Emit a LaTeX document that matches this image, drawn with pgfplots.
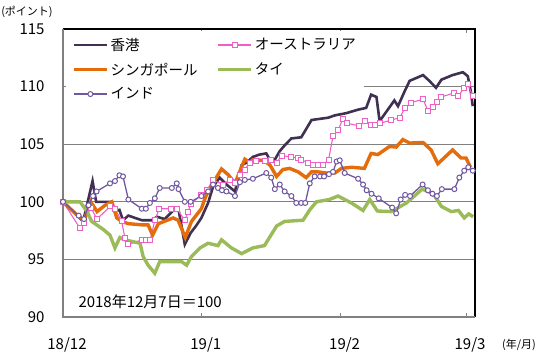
\documentclass[border=0pt]{standalone}
\usepackage{pgfplots}
\pgfplotsset{compat=1.18}
\usepackage{fontspec}
\setmainfont{Noto Sans CJK JP}
\definecolor{hk}{RGB}{64,49,82}
\definecolor{au}{RGB}{238,96,200}
\definecolor{sg}{RGB}{228,108,10}
\definecolor{th}{RGB}{155,187,89}
\definecolor{ind}{RGB}{112,88,160}
\definecolor{gridc}{RGB}{128,128,128}
\begin{document}
\begin{tikzpicture}
\useasboundingbox (-63bp,-41bp) rectangle (487bp,317bp);
\begin{axis}[
  at={(0,0)}, anchor=south west,
  width=412bp, height=288bp, scale only axis,
  xmin=0, xmax=92, ymin=90, ymax=115,
  xtick={0,31,62,90}, xticklabels={18/12,19/1,19/2,19/3},
  ytick={90,95,100,105,110,115},
  /pgf/number format/assume math mode=true,
  font=\fontsize{15bp}{18bp}\selectfont,
  ticklabel style={font=\fontsize{15bp}{18bp}\selectfont},
  yticklabel style={xshift=-15bp},
  xticklabel style={yshift=-17bp, xshift=4bp},
  tick align=inside, major tick length=4bp,
  tick style={draw=gridc, line width=1bp},
  axis line style={draw=none},
  ymajorgrids, grid style={draw=gridc, line width=1.3bp},
  clip=false,
  legend columns=2,
  legend cell align=left,
  legend style={
    at={(rel axis cs:0,1)}, anchor=north west, xshift=3bp, yshift=-2bp,
    draw=none, fill=white,
    inner xsep=6bp, inner ysep=5bp,
    font=\fontsize{14.5bp}{17bp}\selectfont,
    row sep=7bp,
    /tikz/every even column/.append style={column sep=17bp},
  },
  legend image code/.code={\draw[mark repeat=2,mark phase=2,#1] plot coordinates {(0bp,0bp) (16.5bp,0bp) (33bp,0bp)};},
]
% Hong Kong
\addplot[hk, line width=2.6bp, mark=none] coordinates {
(0,100)(4.5,98.3)(6.6,101.8)(7.4,100.0)(10.5,100.0)(11.6,99.2)(12.6,99.3)(13.4,98.4)(14.6,98.8)(17.6,98.4)(19.8,98.4)(21.0,98.7)(22.7,98.5)(24.0,99.0)(25.0,99.4)(25.8,99.3)(26.5,97.85)(27.2,96.3)(28.5,97.3)(29.7,97.9)(30.9,98.6)(32.4,99.9)(33.5,101.3)(35.0,102.1)(36.5,101.5)(38.4,100.9)(39.9,103.2)(41.0,103.4)(42.4,103.9)(43.9,104.1)(45.4,104.2)(46.2,103.65)(47.3,103.65)(48.4,104.4)(49.5,104.9)(51.0,105.5)(53.2,105.6)(55.5,107.1)(59.2,107.3)(60.7,107.5)(63.3,107.7)(65.9,108.0)(67.7,108.15)(68.8,109.3)(70.0,109.1)(70.7,107.0)(74.0,108.8)(74.8,108.3)(76.3,109.6)(77.4,110.5)(80.4,111.0)(81.8,110.5)(83.3,109.9)(84.5,110.6)(87.0,111.0)(89.3,111.25)(90.4,110.9)(91.1,109.5)(91.5,108.3)
};
\addlegendentry{香港}
% Australia
\addplot[au, line width=1.1bp, mark=square*, mark size=2.5bp, mark options={fill=white, draw=au, line width=1bp}] coordinates {
(0,100)(3.8,97.7)(4.7,98.2)(6.2,99.5)(7.6,98.5)(10.5,99.6)(11.6,99.4)(13.1,98.3)(13.8,96.9)(14.6,96.3)(17.6,96.7)(18.5,96.7)(19.5,96.7)(20.5,98.4)(21.5,99.4)(24.2,99.4)(25.4,99.4)(27.2,98.4)(27.9,99.1)(28.5,99.8)(30.9,100.6)(32.2,101.0)(33.5,101.9)(35.7,101.5)(37.2,101.9)(38.4,101.6)(39.5,102.35)(40.6,102.8)(41.7,103.4)(43.2,103.5)(45.0,103.5)(46.5,103.65)(47.7,103.4)(48.8,104.0)(51.0,103.9)(52.5,103.8)(53.2,103.65)(54.7,103.4)(55.8,103.2)(56.9,103.2)(58.1,103.2)(59.3,103.65)(60.3,105.7)(61.4,106.2)(62.5,107.2)(63.5,106.8)(66.2,106.6)(67.5,107.0)(68.8,106.7)(69.7,106.7)(70.7,106.8)(73.3,107.1)(75.2,107.3)(76.3,108.1)(77.6,108.6)(80.4,108.9)(81.5,107.9)(82.6,108.2)(83.6,108.7)(84.5,109.1)(87.3,109.45)(88.3,109.15)(89.5,109.9)(90.4,110.25)(91.5,109.15)
};
\addlegendentry{オーストラリア}
% Singapore
\addplot[sg, line width=3.4bp, mark=none] coordinates {
(0,100)(2.7,99.0)(4.7,98.4)(6.2,100.0)(7.6,99.15)(9.4,99.7)(10.9,100.0)(12.0,98.6)(13.1,98.3)(14.6,98.1)(17.6,98.0)(19.0,98.0)(20.0,97.1)(21.3,98.1)(24.6,98.6)(25.7,98.4)(27.3,96.9)(28.7,98.3)(30.9,99.4)(31.7,100.3)(32.8,101.2)(35.4,102.85)(36.9,102.35)(38.4,101.6)(40.6,103.7)(41.7,103.4)(42.4,103.65)(44.7,103.6)(46.2,103.2)(47.7,102.2)(49.1,102.8)(50.6,102.9)(52.5,102.6)(54.3,102.1)(55.5,102.6)(56.9,102.6)(58.8,102.5)(60.7,102.5)(62.2,102.9)(64.4,103.0)(67.3,102.9)(68.8,104.2)(70.3,104.1)(72.9,104.8)(74.4,104.75)(75.9,105.4)(77.4,105.1)(80.4,105.15)(82.2,104.5)(83.7,103.3)(87.0,104.5)(88.9,103.8)(90.0,103.8)(91.0,103.0)
};
\addlegendentry{シンガポール}
% Thailand
\addplot[th, line width=3.4bp, mark=none] coordinates {
(0,100)(3.8,100)(5.3,99.2)(6.4,98.3)(9.0,97.6)(10.5,97.1)(11.6,96.0)(12.7,96.9)(13.8,96.7)(17.2,96.4)(17.9,95.25)(19.0,94.5)(20.5,93.8)(21.6,94.8)(24.6,94.8)(26.5,94.8)(27.6,94.5)(28.7,95.25)(30.6,96.0)(32.4,96.4)(34.6,96.2)(35.4,96.7)(37.6,96.0)(39.9,95.5)(42.4,96.0)(45.0,96.2)(47.7,97.9)(49.5,98.3)(53.6,98.4)(55.1,99.3)(56.6,100.0)(59.5,100.2)(61.4,100.5)(64.4,99.9)(67.0,99.25)(68.5,100.2)(70.2,99.2)(73.3,99.15)(76.7,99.9)(80.2,101.1)(82.7,100.7)(84.5,99.6)(86.7,99.15)(88.3,99.25)(89.6,98.6)(90.6,98.95)(91.6,98.7)
};
\addlegendentry{タイ}
% India
\addplot[ind, line width=1.3bp, mark=*, mark size=2.5bp, mark options={fill=white, draw=ind, line width=1bp}] coordinates {
(0,100)(3.5,98.8)(4.7,98.5)(5.7,99.7)(6.7,100.5)(7.5,100.9)(10.5,101.6)(11.6,101.8)(12.6,102.3)(13.4,102.2)(14.6,100.2)(17.6,99.4)(18.5,99.4)(19.4,99.9)(20.5,100.3)(21.6,101.2)(24.3,101.2)(25.4,101.6)(25.8,101.1)(27.2,100.0)(28.5,100.0)(30.9,100.5)(32.4,100.9)(33.5,101.5)(34.6,101.2)(35.5,101.0)(36.5,100.9)(38.4,100.5)(39.5,101.7)(40.6,101.9)(42.4,102.0)(45.4,102.5)(46.5,102.1)(47.3,101.1)(48.4,101.5)(49.5,100.9)(51.0,100.5)(52.1,99.9)(53.2,99.9)(54.1,99.9)(55.1,101.6)(56.2,102.2)(57.4,102.2)(58.3,102.2)(59.4,102.4)(60.3,102.6)(61.1,103.5)(61.8,103.6)(62.9,102.5)(65.9,102.0)(67.0,101.5)(67.8,101.0)(68.9,100.7)(70.5,100.3)(73.5,99.5)(74.4,99.0)(75.4,100.2)(76.4,100.6)(77.5,100.5)(80.3,101.5)(81.5,101.0)(82.5,100.7)(83.5,100.5)(84.6,101.1)(87.4,101.1)(88.5,102.1)(89.6,102.7)(90.5,103.0)(91.5,102.7)
};
\addlegendentry{インド}
% frame
\draw[black, line width=1.2bp] (rel axis cs:0,1) -- (rel axis cs:1,1) -- (rel axis cs:1,0);
\draw[gridc, line width=1.6bp] (rel axis cs:0,1) -- (rel axis cs:0,0) -- (rel axis cs:1,0);
\node[anchor=west, font=\fontsize{15bp}{18bp}\selectfont] at (rel axis cs:0,0) [xshift=12bp, yshift=15bp] {2018年12月7日＝100};
\node[font=\fontsize{11bp}{13bp}\selectfont] at (rel axis cs:1,0) [xshift=44bp, yshift=-28bp] {(年/月)};
\node[font=\fontsize{11bp}{13bp}\selectfont] at (rel axis cs:0,1) [xshift=-36bp, yshift=17bp] {(ポイント)};
\end{axis}
\end{tikzpicture}
\end{document}
